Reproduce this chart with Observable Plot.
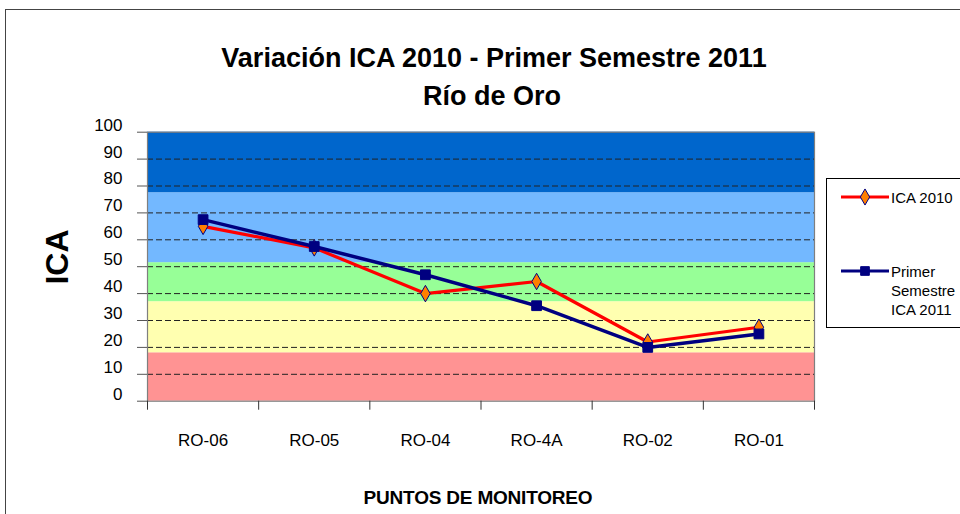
<!DOCTYPE html>
<html>
<head>
<meta charset="utf-8">
<script src="https://cdn.jsdelivr.net/npm/d3@7"></script>
<script src="https://cdn.jsdelivr.net/npm/@observablehq/plot@0.6"></script>
<style>
  html, body { margin: 0; padding: 0; background: #fff; }
  #wrap { position: relative; width: 960px; height: 514px; overflow: hidden; font-family: "Liberation Sans", Arial, sans-serif; }
  #frame { position: absolute; left: 5px; top: 9px; width: 1000px; height: 600px; border: 1.5px solid #444; }
  .t { position: absolute; font-weight: bold; color: #000; white-space: nowrap; line-height: 1; }
  #legend { position: absolute; left: 826px; top: 178px; width: 160px; height: 148px; border: 1px solid #000; background: #fff; font-size: 15px; }
  .li { position: absolute; left: 12px; display: flex; align-items: flex-start; }
  .li span { line-height: 19px; margin-left: 2px; margin-top: 1px; }
</style>
</head>
<body>
<div id="wrap">
  <div id="frame"></div>
  <div id="chart" style="position:absolute;left:0;top:0;"></div>
  <div class="t" style="left:494px;top:58px;font-size:27px;transform:translate(-50%,-50%);">Variación ICA 2010 - Primer Semestre 2011</div>
  <div class="t" style="left:492px;top:96px;font-size:27px;transform:translate(-50%,-50%);">Río de Oro</div>
  <div class="t" style="left:57px;top:257px;font-size:32px;transform:translate(-50%,-50%) rotate(-90deg);">ICA</div>
  <div class="t" style="left:478px;top:497px;font-size:19px;letter-spacing:-0.2px;transform:translate(-50%,-50%);">PUNTOS DE MONITOREO</div>
  <div id="legend"></div>
</div>
<script>
const categories = ["RO-06", "RO-05", "RO-04", "RO-4A", "RO-02", "RO-01"];
const ica2010 = [65, 57, 40, 44.5, 22, 27.5];
const ica2011 = [67.5, 57.5, 47, 35.5, 20, 25];
const seriesNames = ["ICA 2010", "Primer\nSemestre\nICA 2011"];
const yTicks = [0, 10, 20, 30, 40, 50, 60, 70, 80, 90, 100];
const gridValues = [10, 20, 30, 40, 50, 60, 70, 80, 90];
const bandLows = [0, 18, 37, 51.5, 77.5];
const bandHighs = [18, 37, 51.5, 77.5, 100];
const bandColors = ["#FF9393", "#FFFFB0", "#97FF97", "#73B8FF", "#0066CC"];

const bands = bandLows.map((lo, i) => ({lo, hi: bandHighs[i], color: bandColors[i]}));
const rows = [];
categories.forEach((c, i) => {
  rows.push({cat: c, x: i + 0.5, v: ica2010[i], s: "2010"});
  rows.push({cat: c, x: i + 0.5, v: ica2011[i], s: "2011"});
});
const r2010 = rows.filter(d => d.s === "2010");
const r2011 = rows.filter(d => d.s === "2011");
const catTicks = categories.map((c, i) => i + 0.5);
const bounds = d3.range(categories.length + 1);

const chart = Plot.plot({
  width: 960,
  height: 514,
  marginLeft: 147,
  marginRight: 146,
  marginTop: 131.7,
  marginBottom: 113.3,
  style: {fontFamily: "'Liberation Sans', Arial, sans-serif", fontSize: "17px", color: "#000", background: "transparent"},
  x: {type: "linear", domain: [0, categories.length]},
  y: {domain: [0, 100]},
  marks: [
    Plot.rect(bands, {y1: "lo", y2: "hi", fill: "color"}),
    Plot.ruleY(gridValues, {stroke: "#222", strokeWidth: 1, strokeDasharray: "6,3"}),
    Plot.frame({stroke: "#7f7f7f", strokeWidth: 1.2}),
    Plot.axisY({ticks: yTicks, tickSize: 10, fill: "none", label: null, stroke: "#555"}),
    Plot.axisY({ticks: yTicks, tickSize: 10, tickPadding: 15, stroke: "none", dy: -7, label: null, fill: "#000", fontSize: 17}),
    Plot.axisX({ticks: bounds, tickSize: 9, tickFormat: () => "", label: null, stroke: "#333"}),
    Plot.axisX({ticks: catTicks, tickSize: 0, tickPadding: 33, tickFormat: d => categories[Math.round(d - 0.5)], label: null, fill: "#000", fontSize: 17}),
    Plot.line(r2010, {x: "x", y: "v", stroke: "#FF0000", strokeWidth: 3.2}),
    Plot.line(r2011, {x: "x", y: "v", stroke: "#000080", strokeWidth: 3.5}),
    Plot.dot(r2010, {x: "x", y: "v", symbol: "diamond", r: 5, fill: "#FF7F00", stroke: "#000080", strokeWidth: 1}),
    Plot.dot(r2011, {x: "x", y: "v", symbol: "square", r: 5.5, fill: "#000080", stroke: "#000080", strokeWidth: 1})
  ]
});
document.getElementById("chart").appendChild(chart);

// legend
const legend = document.getElementById("legend");
const legendDefs = [
  {name: seriesNames[0], stroke: "#FF0000", fill: "#FF7F00", mstroke: "#000080", shape: "diamond", top: 8},
  {name: seriesNames[1], stroke: "#000080", fill: "#000080", mstroke: "#000080", shape: "square", top: 82}
];
legendDefs.forEach(d => {
  const item = document.createElement("div");
  item.className = "li";
  item.style.top = d.top + "px";
  const sym = d3.create("svg").attr("width", 50).attr("height", 20);
  sym.append("line").attr("x1", 2).attr("x2", 50).attr("y1", 10).attr("y2", 10).attr("stroke", d.stroke).attr("stroke-width", 3);
  const sh = d.shape === "diamond" ? d3.symbolDiamond : d3.symbolSquare;
  sym.append("path").attr("d", d3.symbol(sh, 75)()).attr("transform", "translate(26,10)")
    .attr("fill", d.fill).attr("stroke", d.mstroke).attr("stroke-width", 1);
  item.appendChild(sym.node());
  const txt = document.createElement("span");
  txt.innerHTML = d.name.split("\n").join("<br>");
  item.appendChild(txt);
  legend.appendChild(item);
});
</script>
</body>
</html>
